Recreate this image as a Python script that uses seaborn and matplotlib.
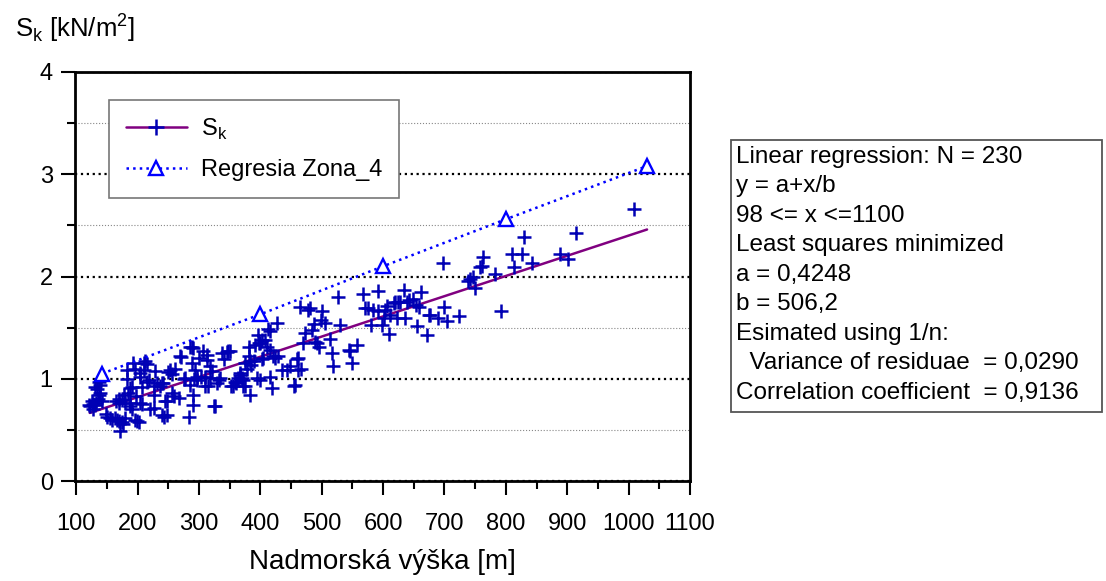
import numpy as np
import pandas as pd
import matplotlib
matplotlib.use('Agg')
import matplotlib.pyplot as plt
import seaborn as sns
from matplotlib.lines import Line2D
from matplotlib.patches import Rectangle
from matplotlib.ticker import MultipleLocator

# namerane hodnoty: nadmorska vyska [m] a zataz snehom Sk [kN/m2]
vyska = [
    120, 123, 127, 130, 128, 133, 136, 137, 139, 131, 134, 137, 139, 142, 141, 125, 150, 155, 158, 148,
    163, 166, 170, 172, 174, 176, 180, 164, 169, 170, 175, 180, 178, 185, 188, 188, 191, 188, 183, 191,
    193, 196, 183, 196, 199, 202, 197,
    204, 204, 207, 207, 204, 210, 212, 210, 215, 215, 218, 221, 226, 226, 226, 229, 231, 237, 240, 242,
    240, 243, 248, 245, 248, 250, 253, 256, 256, 259, 261,
    267, 269, 271, 275, 278, 283, 286, 286, 288, 291, 291, 291, 294, 297, 289, 292, 297, 300,
    303, 307, 310, 310, 313, 313, 315, 318, 318, 322, 324, 326, 329, 333, 335, 337, 340, 345, 348, 351,
    352, 356, 358, 360,
    364, 367, 367, 370, 371, 372, 375, 375, 378, 381, 381, 383, 383, 384, 389, 392, 394, 396, 398, 400,
    400, 402, 402, 405, 408, 411, 413, 415, 416, 416, 419, 420,
    424, 427, 428, 435, 443, 448, 454, 457, 459, 462, 462, 465, 467, 470, 473, 478,
    481, 484, 487, 489, 492, 495, 499, 500, 505, 514, 516, 519, 527, 530, 544, 546, 549, 557,
    568, 571, 576, 580, 584, 592, 592, 598, 601, 603, 607, 609, 611, 617, 620, 622, 625, 628, 634, 636,
    639, 642, 649, 654, 655, 658,
    661, 671, 674, 677, 690, 697, 699, 704, 723, 739, 742, 747, 750, 758, 761, 763, 782, 792, 810, 813,
    826, 829, 842, 888, 902, 914, 1009,
]
sk = [
    0.74, 0.73, 0.75, 0.74, 0.70, 0.76, 0.80, 0.84, 0.86, 0.92, 0.90, 0.97, 0.94, 0.78, 1.00, 0.78, 0.63, 0.62, 0.60, 0.66,
    0.62, 0.60, 0.59, 0.49, 0.58, 0.56, 0.62, 0.78, 0.76, 0.80, 0.79, 0.76, 0.84, 0.86, 0.91, 0.73, 0.70, 0.76, 1.00, 0.92,
    1.15, 1.10, 1.09, 0.60, 0.59, 0.58, 0.83,
    0.76, 1.06, 0.92, 0.75, 1.02, 1.15, 1.17, 1.09, 1.14, 0.97, 0.99, 0.70, 0.71, 0.93, 0.84, 1.08, 0.96, 0.93, 0.96, 0.96,
    0.65, 0.63, 0.65, 0.78, 0.78, 1.07, 1.09, 1.05, 0.86, 0.83, 1.10,
    0.81, 1.22, 1.21, 1.00, 1.01, 0.63, 1.31, 0.94, 1.31, 0.74, 0.84, 1.30, 1.09, 0.99, 1.15, 1.00, 1.02, 1.20,
    1.02, 1.27, 1.02, 0.93, 1.23, 1.18, 0.93, 1.01, 1.12, 1.08, 0.73, 0.73, 0.96, 0.99, 1.01, 1.25, 1.19, 1.26, 1.27, 1.27,
    0.93, 0.93, 0.97, 0.96,
    1.01, 1.04, 1.06, 1.01, 0.93, 0.99, 0.93, 1.15, 1.10, 1.22, 1.31, 0.84, 1.17, 1.13, 1.17, 1.33, 1.01, 1.43, 1.35, 0.99,
    1.35, 1.19, 1.38, 1.20, 1.38, 1.31, 1.49, 1.47, 1.02, 1.28, 0.91, 1.22,
    1.20, 1.55, 1.22, 1.09, 1.09, 1.12, 0.93, 0.94, 1.19, 1.20, 1.09, 1.70, 1.10, 1.35, 1.45, 1.67,
    1.69, 1.48, 1.54, 1.36, 1.35, 1.31, 1.57, 1.66, 1.55, 1.39, 1.25, 1.12, 1.80, 1.53, 1.28, 1.27, 1.15, 1.33,
    1.83, 1.69, 1.69, 1.53, 1.67, 1.86, 1.66, 1.53, 1.59, 1.67, 1.71, 1.44, 1.62, 1.74, 1.75, 1.59, 1.75, 1.75, 1.87, 1.59,
    1.75, 1.77, 1.78, 1.72, 1.52, 1.70,
    1.85, 1.43, 1.62, 1.62, 1.59, 2.13, 1.70, 1.56, 1.61, 1.96, 1.98, 2.00, 1.89, 2.09, 2.10, 2.19, 2.02, 1.66, 2.22, 2.09,
    2.22, 2.39, 2.13, 2.22, 2.17, 2.43, 2.66,
]

# regresia pre zonu 4
zona4_x = [142, 400, 600, 800, 1030]
zona4_y = [1.05, 1.63, 2.10, 2.56, 3.08]

# parametre linearnej regresie y = a + x/b
a = 0.4248
b = 506.2
fit_x = [122, 1030]
fit_y = [a + v / b for v in fit_x]

stats_lines = [
    'Linear regression: N = 230',
    'y = a+x/b',
    '98 <= x <=1100',
    'Least squares minimized',
    'a = 0,4248',
    'b = 506,2',
    'Esimated using 1/n:',
    '  Variance of residuae  = 0,0290',
    'Correlation coefficient  = 0,9136',
]

sns.set_style('ticks')
plt.rcParams['font.family'] = ['Liberation Sans', 'DejaVu Sans']
plt.rcParams['mathtext.fontset'] = 'custom'
plt.rcParams['mathtext.rm'] = 'Liberation Sans'
plt.rcParams['text.color'] = 'black'
plt.rcParams['axes.labelcolor'] = 'black'
plt.rcParams['xtick.color'] = 'black'
plt.rcParams['ytick.color'] = 'black'

df = pd.DataFrame({'vyska': vyska, 'sk': sk})

fig = plt.figure(figsize=(11.06, 5.81), dpi=100)
ax = fig.add_axes([75 / 1106, 1 - 481 / 581, 615 / 1106, 409 / 581])

bod_farba = '#0000B4'
sns.scatterplot(data=df, x='vyska', y='sk', marker='+', s=105, color=bod_farba,
                linewidth=1.8, ax=ax, legend=False, zorder=4)
sns.lineplot(x=fit_x, y=fit_y, color='#800080', lw=1.8, ax=ax, zorder=3)
sns.lineplot(x=zona4_x, y=zona4_y, color='#0000FF', linestyle=':', lw=1.8,
             marker='^', markersize=10.5, markerfacecolor='white',
             markeredgecolor='#0000FF', markeredgewidth=1.7, ax=ax, zorder=5)

ax.set_xlim(98, 1100)
ax.set_ylim(0, 4)
ax.xaxis.set_major_locator(MultipleLocator(100))
ax.xaxis.set_minor_locator(MultipleLocator(50))
ax.yaxis.set_major_locator(MultipleLocator(1))
ax.yaxis.set_minor_locator(MultipleLocator(0.5))

ax.grid(axis='y', which='major', linestyle=':', color='black', lw=1.6)
ax.grid(axis='y', which='minor', linestyle=':', color='#888888', lw=0.8)
ax.set_axisbelow(True)

for s in ax.spines.values():
    s.set_linewidth(2)
    s.set_color('black')

ax.tick_params(axis='both', which='major', length=10, width=1.5, labelsize=17, color='black')
ax.tick_params(axis='both', which='minor', length=5.5, width=1.5, color='black')
ax.tick_params(axis='x', which='major', pad=13)
ax.tick_params(axis='y', which='major', pad=6)

ax.set_xlabel('Nadmorská výška [m]', fontsize=20, labelpad=10)
ax.set_ylabel('')
fig.text(15 / 1106, 1 - 37 / 581, 'S$_\\mathregular{k}$ [kN/m$^\\mathregular{2}$]',
         fontsize=18.5, ha='left', va='baseline')

handles = [
    Line2D([], [], color='#800080', lw=1.8, marker='+', markersize=11,
           markeredgecolor=bod_farba, markeredgewidth=1.8),
    Line2D([], [], color='#0000FF', ls=':', lw=1.8, marker='^', markersize=10.5,
           markerfacecolor='white', markeredgecolor='#0000FF', markeredgewidth=1.7),
]
leg = ax.legend(handles, ['S$_\\mathregular{k}$', 'Regresia Zona_4'], loc='upper left',
                bbox_to_anchor=(109 / 1106, 1 - 100 / 581), bbox_transform=fig.transFigure,
                borderaxespad=0, fontsize=17, handlelength=2.6, handletextpad=0.6,
                borderpad=0.7, labelspacing=0.75, fancybox=False, edgecolor='#777777',
                framealpha=1)
leg.get_frame().set_linewidth(1.2)

# textovy box so statistikou
fig.add_artist(Rectangle((731 / 1106, 1 - 412 / 581), 371 / 1106, 272 / 581,
                         transform=fig.transFigure, facecolor='white',
                         edgecolor='#555555', lw=1.3))
fig.text(736 / 1106, 1 - 146 / 581, '\n'.join(stats_lines), fontsize=17.5,
         ha='left', va='top', linespacing=1.44)

fig.savefig('out.png', dpi=100)
